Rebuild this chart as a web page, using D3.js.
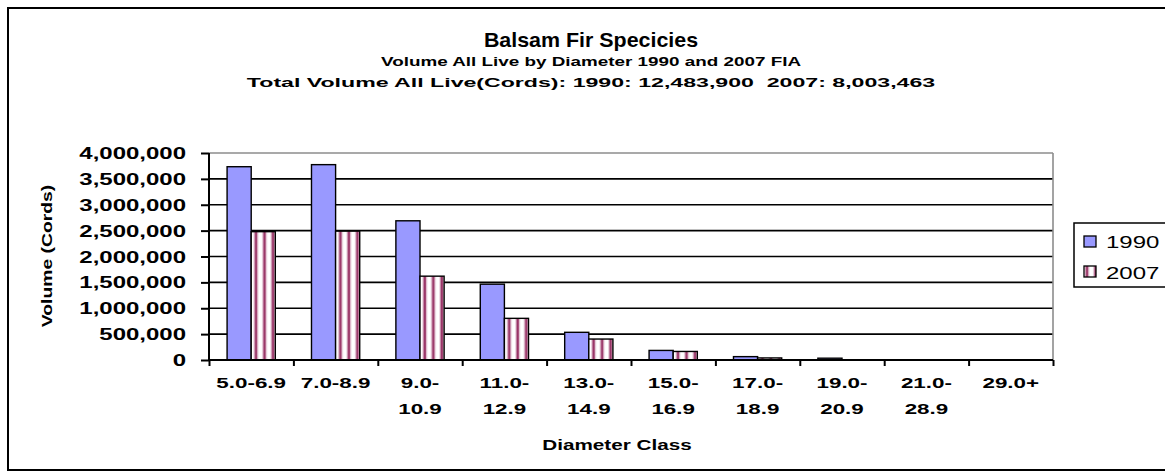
<!DOCTYPE html>
<html>
<head>
<meta charset="utf-8">
<script src="https://cdn.jsdelivr.net/npm/d3@7"></script>
<style>
  body { margin: 0; background: #fff; }
  text { font-family: "Liberation Sans", Arial, sans-serif; font-weight: bold; fill: #000; }
</style>
</head>
<body>
<svg id="chart" width="1165" height="476"></svg>
<script>
// data
const categories = ["5.0-6.9", "7.0-8.9", "9.0-10.9", "11.0-12.9", "13.0-14.9",
                    "15.0-16.9", "17.0-18.9", "19.0-20.9", "21.0-28.9", "29.0+"];
const tickLabels = [["5.0-6.9"], ["7.0-8.9"], ["9.0-", "10.9"], ["11.0-", "12.9"], ["13.0-", "14.9"],
                    ["15.0-", "16.9"], ["17.0-", "18.9"], ["19.0-", "20.9"], ["21.0-", "28.9"], ["29.0+"]];
const series = ["1990", "2007"];
const values1990 = [3735000, 3775000, 2690000, 1465000, 535000, 185000, 65000, 35000, 0, 0];
const values2007 = [2480000, 2490000, 1620000, 805000, 405000, 165000, 40000, 0, 0, 0];
const yTicks = [0, 500000, 1000000, 1500000, 2000000, 2500000, 3000000, 3500000, 4000000];

const svg = d3.select("#chart");
const plot = { left: 209, right: 1053, top: 153, bottom: 360 };

// the original text is rendered wide, so stretch it sideways
function label(x, y, str, size, sx, anchor, rot) {
  const t = svg.append("text")
    .attr("transform", `translate(${x},${y})` + (rot ? ` rotate(${rot})` : "") + ` scale(${sx},1)`)
    .attr("text-anchor", anchor || "middle")
    .style("font-size", size + "px")
    .text(str);
  return t;
}

// outer frame
svg.append("rect")
  .attr("x", 8).attr("y", 8).attr("width", 1175).attr("height", 462)
  .attr("fill", "none").attr("stroke", "#000").attr("stroke-width", 2);

// stripes for the 2007 series
const defs = svg.append("defs");
const pat = defs.append("pattern")
  .attr("id", "stripes").attr("patternUnits", "userSpaceOnUse")
  .attr("x", 0).attr("width", 8.5).attr("height", 10);
pat.append("rect").attr("width", 8.5).attr("height", 10).attr("fill", "#fff");
pat.append("rect").attr("x", 2).attr("width", 5).attr("height", 10).attr("fill", "#e8d0dc");
pat.append("rect").attr("x", 3).attr("width", 3).attr("height", 10).attr("fill", "#cc99b3");
pat.append("rect").attr("x", 3.5).attr("width", 2).attr("height", 10).attr("fill", "#993366");

const x = d3.scaleBand().domain(categories).range([plot.left, plot.right]).padding(0);
const xInner = d3.scaleBand().domain(series).range([0, x.bandwidth()])
  .paddingInner(0).paddingOuter(0.75);
const y = d3.scaleLinear().domain([0, 4000000]).range([plot.bottom, plot.top]);

// gridlines
svg.append("g")
  .selectAll("line")
  .data(yTicks.slice(1))
  .join("line")
  .attr("x1", plot.left).attr("x2", plot.right)
  .attr("y1", d => y(d)).attr("y2", d => y(d))
  .attr("stroke", d => d === 4000000 ? "#8c8c8c" : "#000")
  .attr("stroke-width", 1.6);

// right border of plot area
svg.append("line")
  .attr("x1", plot.right).attr("x2", plot.right)
  .attr("y1", plot.top).attr("y2", plot.bottom)
  .attr("stroke", "#8c8c8c").attr("stroke-width", 1.6);

// bars
const rows = categories.map((c, i) => ({ cat: c, v: [values1990[i], values2007[i]] }));
const groups = svg.append("g")
  .selectAll("g")
  .data(rows)
  .join("g")
  .attr("transform", d => `translate(${x(d.cat)},0)`);

groups.selectAll("rect")
  .data(d => series.map((s, j) => ({ s, v: d.v[j] })).filter(e => e.v > 0))
  .join("rect")
  .attr("x", d => xInner(d.s))
  .attr("y", d => y(d.v))
  .attr("width", xInner.bandwidth())
  .attr("height", d => plot.bottom - y(d.v))
  .attr("fill", d => d.s === "1990" ? "#9999ff" : "url(#stripes)")
  .attr("stroke", "#000")
  .attr("stroke-width", 1.4);

// axes
const yAxis = d3.axisLeft(y).tickValues(yTicks).tickSize(8).tickFormat("");
svg.append("g")
  .attr("transform", `translate(${plot.left},0)`)
  .call(yAxis)
  .call(g => g.selectAll("line, path").attr("stroke", "#000").attr("stroke-width", 2))
  .call(g => g.select(".domain").attr("d", `M0,${plot.top}V${plot.bottom}`));

const xAxis = d3.axisBottom(d3.scaleLinear().domain([0, categories.length]).range([plot.left, plot.right]))
  .tickValues(d3.range(categories.length + 1)).tickSize(6).tickFormat("");
svg.append("g")
  .attr("transform", `translate(0,${plot.bottom})`)
  .call(xAxis)
  .call(g => g.selectAll("line, path").attr("stroke", "#000").attr("stroke-width", 2))
  .call(g => g.select(".domain").attr("d", `M${plot.left},0H${plot.right}`));

// y tick labels
yTicks.forEach(t => {
  label(186, y(t) + 6, d3.format(",")(t), 16, 1.5, "end");
});

// x tick labels
tickLabels.forEach((lines, i) => {
  const cx = x(categories[i]) + x.bandwidth() / 2;
  lines.forEach((ln, k) => label(cx, 388 + k * 26, ln, 14, 1.6, "middle"));
});

// titles
label(591, 47, "Balsam Fir Specicies", 21, 1.02);
label(591, 66, "Volume All Live by Diameter 1990 and 2007 FIA", 13, 1.45);
label(591, 87, "Total Volume All Live(Cords): 1990: 12,483,900  2007: 8,003,463", 13, 1.78)
  .attr("xml:space", "preserve");
label(617, 450, "Diameter Class", 15, 1.38);
label(52, 256, "Volume (Cords)", 15, 1.29, "middle", -90);

// legend
const lg = svg.append("g").attr("transform", "translate(1074,223)");
lg.append("rect").attr("width", 110).attr("height", 64)
  .attr("fill", "#fff").attr("stroke", "#000").attr("stroke-width", 1.5);
series.forEach((s, i) => {
  lg.append("rect")
    .attr("x", 10).attr("y", 13 + i * 30).attr("width", 12).attr("height", 11)
    .attr("fill", s === "1990" ? "#9999ff" : "url(#stripes)")
    .attr("stroke", "#000").attr("stroke-width", 1.3);
  label(1106, 248 + i * 31, s, 16, 1.5, "start").style("font-weight", "normal");
});
</script>
</body>
</html>
